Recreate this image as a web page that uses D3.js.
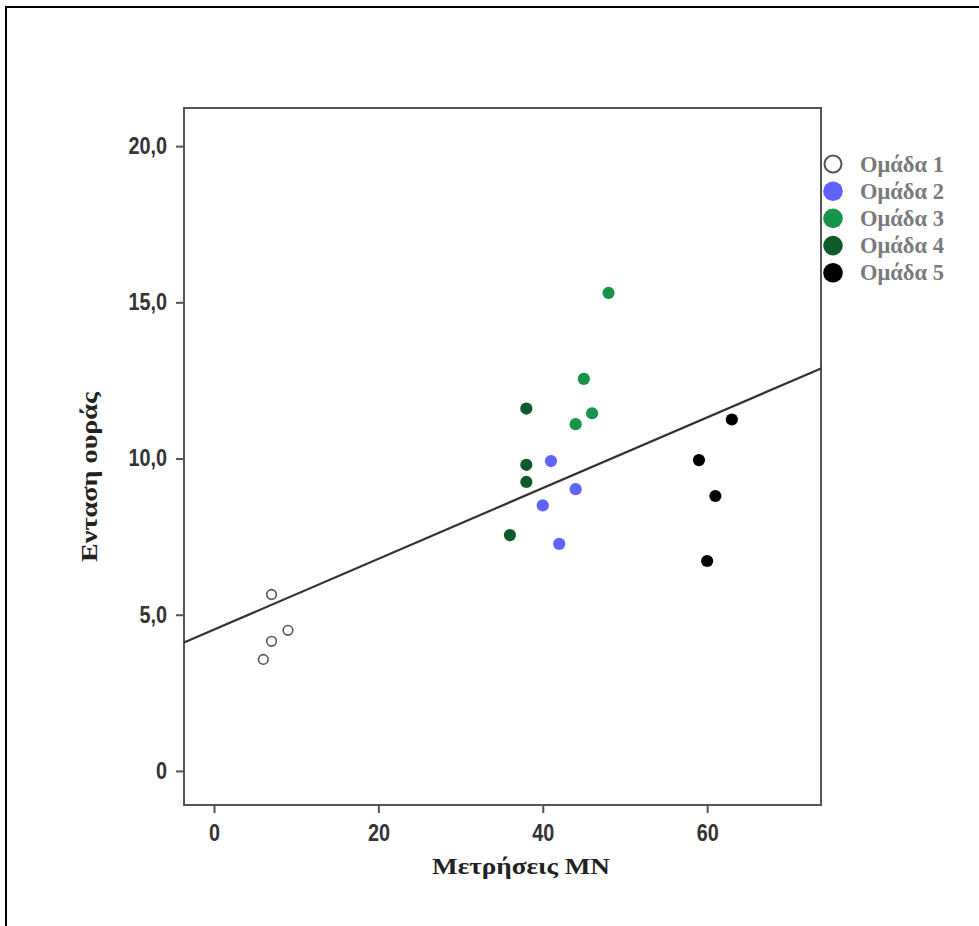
<!DOCTYPE html>
<html><head><meta charset="utf-8">
<script src="https://cdn.jsdelivr.net/npm/d3@7"></script>
<style>body{margin:0;background:#fff}</style>
</head><body>
<script>
const groups = ["Ομάδα 1","Ομάδα 2","Ομάδα 3","Ομάδα 4","Ομάδα 5"];
const colors = ["none","#6262ff","#17934b","#0e5a2c","#000000"];
const g1x = [7,9,7,6],       g1y = [5.65,4.5,4.15,3.57];
const g2x = [41,44,40,42],   g2y = [9.92,9.02,8.5,7.27];
const g3x = [48,45,46,44],   g3y = [15.3,12.55,11.45,11.1];
const g4x = [38,38,38,36],   g4y = [11.6,9.8,9.25,7.55];
const g5x = [63,59,61,60],   g5y = [11.25,9.95,8.8,6.72];
const xTicks = [0,20,40,60];
const yTicks = [0,5,10,15,20];
const yTickLabels = ["0","5,0","10,0","15,0","20,0"];
const xTitle = "Μετρήσεις ΜΝ";
const yTitle = "Ενταση ουράς";

const W=979,H=926;
const svg=d3.select("body").append("svg").attr("width",W).attr("height",H);
// outer border
svg.append("path").attr("d","M6,926 V7 H979").attr("fill","none").attr("stroke","#000").attr("stroke-width",2);

const L=184,R=821,T=108,B=805;
const x=d3.scaleLinear().domain([-3.65,73.85]).range([L,R]);
const y=d3.scaleLinear().domain([-1.09,21.22]).range([B,T]);

const frameCol="#555";
svg.append("rect").attr("x",L).attr("y",T).attr("width",R-L).attr("height",B-T)
  .attr("fill","none").attr("stroke",frameCol).attr("stroke-width",2);

const tickFont="'Liberation Sans','Arial',sans-serif";
const xa=svg.append("g").attr("transform",`translate(0,${B})`)
  .call(d3.axisBottom(x).tickValues(xTicks).tickSize(8).tickPadding(12).tickFormat(d3.format("d")));
const ya=svg.append("g").attr("transform",`translate(${L},0)`)
  .call(d3.axisLeft(y).tickValues(yTicks).tickSize(8).tickPadding(9).tickFormat((d,i)=>yTickLabels[i]));
[xa,ya].forEach(a=>{
  a.select(".domain").remove();
  a.selectAll(".tick line").attr("stroke",frameCol).attr("stroke-width",2);
  a.selectAll(".tick text").attr("fill","#333").style("font-family",tickFont)
   .style("font-weight","bold").style("font-size","23px")
   .each(function(){
     const w=this.getComputedTextLength();
     d3.select(this).attr("textLength",w*0.86).attr("lengthAdjust","spacingAndGlyphs");
   });
});

// data
const data=[];
[[g1x,g1y],[g2x,g2y],[g3x,g3y],[g4x,g4y],[g5x,g5y]].forEach(([xs,ys],gi)=>{
  xs.forEach((v,i)=>data.push({g:gi,x:v,y:ys[i]}));
});
// regression
const mx=d3.mean(data,d=>d.x), my=d3.mean(data,d=>d.y);
const sxy=d3.sum(data,d=>(d.x-mx)*(d.y-my)), sxx=d3.sum(data,d=>(d.x-mx)**2);
const b=sxy/sxx, a0=my-b*mx;
const xd=x.domain();
svg.append("line").attr("x1",x(xd[0])).attr("y1",y(a0+b*xd[0]))
  .attr("x2",x(xd[1])).attr("y2",y(a0+b*xd[1]))
  .attr("stroke","#333").attr("stroke-width",2.2);

svg.append("g").selectAll("circle").data(data).join("circle")
  .attr("cx",d=>x(d.x)).attr("cy",d=>y(d.y))
  .attr("r",d=>d.g===0?4.8:6.1)
  .attr("fill",d=>d.g===0?"#fff":colors[d.g])
  .attr("stroke",d=>d.g===0?"#555":"none").attr("stroke-width",1.6);

const serif="'Liberation Serif','Times New Roman',serif";
svg.append("text").attr("x",521).attr("y",874).attr("text-anchor","middle")
  .attr("textLength",178).attr("lengthAdjust","spacingAndGlyphs")
  .style("font-family",serif).style("font-weight","bold").style("font-size","22.5px").attr("fill","#222").text(xTitle);
svg.append("text").attr("transform",`translate(97,477) rotate(-90)`).attr("text-anchor","middle")
  .attr("textLength",170).attr("lengthAdjust","spacingAndGlyphs")
  .style("font-family",serif).style("font-weight","bold").style("font-size","22.5px").attr("fill","#222").text(yTitle);

// legend
const lg=svg.append("g");
groups.forEach((gname,i)=>{
  const cy=164+i*27.2;
  lg.append("circle").attr("cx",833).attr("cy",cy).attr("r",i===0?8.5:9.8)
    .attr("fill",i===0?"#fff":colors[i]).attr("stroke",i===0?"#555":"none").attr("stroke-width",2);
  lg.append("text").attr("x",860).attr("y",cy+7.5).style("font-family",serif)
    .style("font-weight","bold").style("font-size","22.5px").attr("fill","#7a7a7a").text(gname);
});
</script>
</body></html>
